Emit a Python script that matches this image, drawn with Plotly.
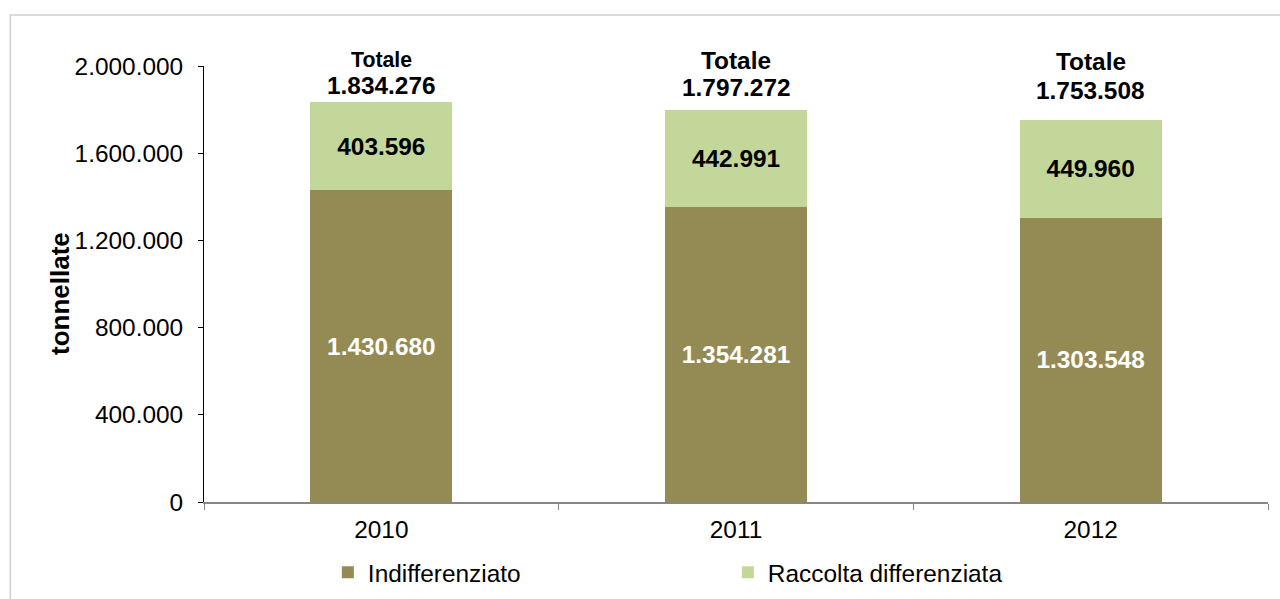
import plotly.graph_objects as go

years = ["2010", "2011", "2012"]
indifferenziato = [1430680, 1354281, 1303548]
differenziata = [403596, 442991, 449960]
totali = [1834276, 1797272, 1753508]
y_ticks = [0, 400000, 800000, 1200000, 1600000, 2000000]

# label offsets above each bar top (px) - styling only
num_shift = [17, 23, 29]
tot_shift = [42, 50, 58]
tot_size = [21.3, 24.4, 24.4]

FONT = "Liberation Sans, Arial, sans-serif"
FS = 24.4
# figure is a bit taller than the 599px window; the bottom strip is cropped
H, T, B_AXIS = 620, 66, 502
PLOT_H = B_AXIS - T

fig = go.Figure()
fig.add_trace(go.Bar(
    x=years, y=indifferenziato, name="Indifferenziato",
    marker=dict(color="#948A54", line=dict(width=0)),
    texttemplate="%{y:,d}", textposition="inside", insidetextanchor="middle",
    textangle=0,
    textfont=dict(family=FONT, size=FS, color="white", weight="bold"),
))
fig.add_trace(go.Bar(
    x=years, y=differenziata, name="Raccolta differenziata",
    marker=dict(color="#C4D79B", line=dict(width=0)),
    texttemplate="%{y:,d}", textposition="inside", insidetextanchor="middle",
    textangle=0,
    textfont=dict(family=FONT, size=FS, color="black", weight="bold"),
))

for i, (tot, ns, ts, tsz) in enumerate(zip(totali, num_shift, tot_shift, tot_size)):
    s = f"{tot:,}".replace(",", ".")
    fig.add_annotation(
        x=i, y=tot, text=f"<b>{s}</b>", showarrow=False,
        yanchor="middle", yshift=ns,
        font=dict(family=FONT, size=FS, color="black"),
    )
    fig.add_annotation(
        x=i, y=tot, text="<b>Totale</b>", showarrow=False,
        yanchor="middle", yshift=ts,
        font=dict(family=FONT, size=tsz, color="black"),
    )

# y-axis title
fig.add_annotation(
    xref="x domain", yref="y domain", x=(60 - 204) / 1064, y=0.477,
    text="<b>tonnellate</b>", textangle=-90, showarrow=False,
    xanchor="center", yanchor="middle",
    font=dict(family=FONT, size=26, color="black"),
)

fig.update_layout(
    barmode="stack", bargap=0.6,
    separators=",.",
    width=1280, height=H,
    paper_bgcolor="white", plot_bgcolor="white",
    margin=dict(l=204, r=12, t=T, b=H - B_AXIS),
    font=dict(family=FONT, size=FS, color="black"),
    showlegend=True,
    legend=dict(orientation="h", x=0.1164, xanchor="left",
                y=-(550 - B_AXIS) / PLOT_H, yanchor="top",
                entrywidth=355, font=dict(size=FS), traceorder="normal"),
    shapes=[dict(type="rect", xref="x domain", yref="y domain",
                 x0=-0.182, x1=1.05, y0=-0.5, y1=(B_AXIS - 15) / PLOT_H,
                 line=dict(color="#D0D0D0", width=1.5), layer="below")],
)
fig.update_yaxes(
    range=[0, 2000000], tickvals=y_ticks, tickformat=",d",
    showgrid=False, zeroline=False,
    showline=True, linecolor="black", linewidth=1,
    ticks="outside", ticklen=5, tickcolor="black",
    tickfont=dict(size=FS), ticklabelstandoff=10,
)
fig.update_xaxes(
    type="category", range=[-0.5, 2.5],
    showgrid=False, zeroline=False,
    showline=True, linecolor="#868686", linewidth=1.5,
    ticks="outside", tickson="boundaries", ticklen=6, tickcolor="#868686",
    tickfont=dict(size=FS), ticklabelstandoff=5,
)

fig.write_html(
    "out.html",
    config={"displayModeBar": False},
    post_script="document.body.style.margin='0';document.body.style.overflow='hidden';",
)
